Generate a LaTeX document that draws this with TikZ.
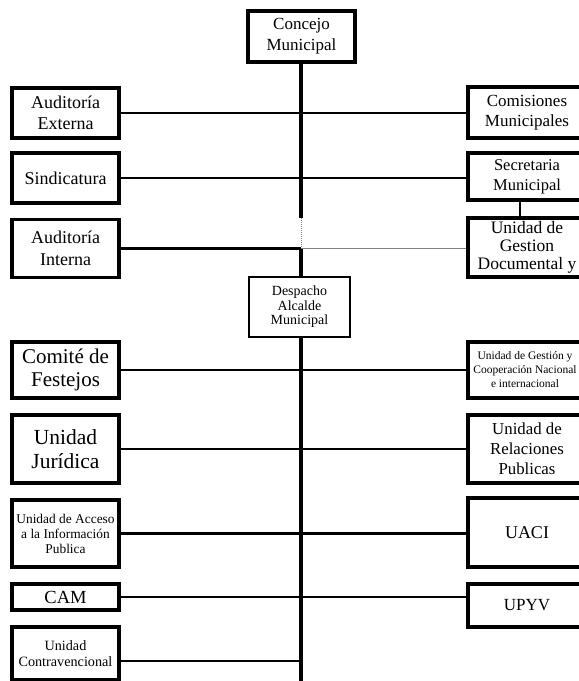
\documentclass[tikz,border=0pt]{standalone}
\usepackage{fontspec}
\setmainfont{Liberation Serif}
\newcommand{\fsz}[2]{\fontsize{#1}{#2}\selectfont}
\begin{document}
\begin{tikzpicture}[x=1pt,y=1pt,
  box/.style={draw, line width=3.4pt, rectangle, inner sep=0pt, align=center},
  lbox/.style={box, minimum width=107pt},
  rbox/.style={box, minimum width=118pt},
  conn/.style={line width=2.5pt},
  spine/.style={line width=3.2pt},
  faint/.style={draw=gray, line width=1pt}]
\clip (0,0) rectangle (579,-681);
\fill[white] (0,0) rectangle (579,-681);
% top
\node[box, minimum width=107pt, minimum height=51pt, font=\fsz{17}{21}] (cm) at (301.5,-36.5) {Concejo\\Municipal};
% left upper
\node[lbox, minimum height=50pt, font=\fsz{18}{21}] (ae) at (65.5,-113) {Auditoría\\Externa};
\node[lbox, minimum height=50pt, font=\fsz{18}{21}] (sind) at (65.5,-178) {Sindicatura};
\node[lbox, minimum height=58pt, font=\fsz{18}{22}] (ai) at (65.5,-248.5) {Auditoría\\Interna};
% right upper
\node[rbox, minimum height=51pt, font=\fsz{17}{20}] (com) at (527,-112.5) {Comisiones\\Municipales};
\node[rbox, minimum height=47pt, font=\fsz{16.5}{20}] (sec) at (527,-176.5) {Secretaria\\Municipal};
\node[rbox, minimum height=59pt, font=\fsz{17.5}{18}] (ugd) at (527,-247.5) {Unidad de\\Gestion\\Documental y};
% despacho
\node[box, line width=2.8pt, minimum width=101pt, minimum height=60pt, font=\fsz{14}{14.5}] (desp) at (299.5,-307) {Despacho\\Alcalde\\Municipal};
% left lower
\node[lbox, minimum height=56pt, font=\fsz{21}{23}] (cf) at (65.5,-370) {Comité de\\Festejos};
\node[lbox, minimum height=68pt, font=\fsz{21.5}{24}] (uj) at (65.5,-449) {Unidad\\Jurídica};
\node[lbox, minimum height=67pt, font=\fsz{13.4}{15}] (uai) at (65.5,-533.5) {Unidad de Acceso\\a la Información\\Publica};
\node[lbox, minimum height=26pt, font=\fsz{18.5}{20}] (cam) at (65.5,-597) {CAM};
\node[lbox, minimum height=53pt, font=\fsz{14.2}{16}] (uc) at (65.5,-653.5) {Unidad\\Contravencional};
% right lower
\node[box, minimum width=114pt, minimum height=56pt, font=\fsz{11.5}{14}] (ugc) at (525,-370) {Unidad de Gestión y\\Cooperación Nacional\\e internacional};
\node[rbox, minimum height=68pt, font=\fsz{16.8}{20}] (urp) at (527,-449) {Unidad de\\Relaciones\\Publicas};
\node[rbox, minimum height=69pt, font=\fsz{18}{20}] (uaci) at (527,-532.5) {UACI};
\node[rbox, minimum height=43pt, font=\fsz{17}{20}] (upyv) at (527,-605.5) {UPYV};
% spine coordinates
\coordinate (sx) at (301,0);
\coordinate (s1) at (301,-218);
\coordinate (s2) at (301,-248.5);
\coordinate (bot) at (301,-681);
\coordinate (vx) at (520,0);
% spine
\draw[spine] (cm.south -| sx) -- (s1);
\draw[faint, densely dotted] (s1) -- (s2);
\draw[spine] (s2) -- (desp.north -| sx);
\draw[spine] (desp.south -| sx) -- (bot);
% horizontal connectors upper
\draw[conn] (ae.east) -- (ae.east -| com.west);
\draw[conn] (sind.east) -- (sind.east -| sec.west);
\draw[conn] (ai.east) -- (s2);
\draw[faint] (s2) -- (s2 -| ugd.west);
\draw[conn] (sec.south -| vx) -- (ugd.north -| vx);
% horizontal connectors lower
\draw[conn] (cf.east) -- (ugc.west);
\draw[conn] (uj.east) -- (urp.west);
\draw[conn] (uai.east) -- (uai.east -| uaci.west);
\draw[conn] (cam.east) -- (cam.east -| upyv.west);
\draw[conn] ([yshift=-7.5pt]uc.east) -- ([yshift=-7.5pt]uc.east -| bot);
\end{tikzpicture}
\end{document}
